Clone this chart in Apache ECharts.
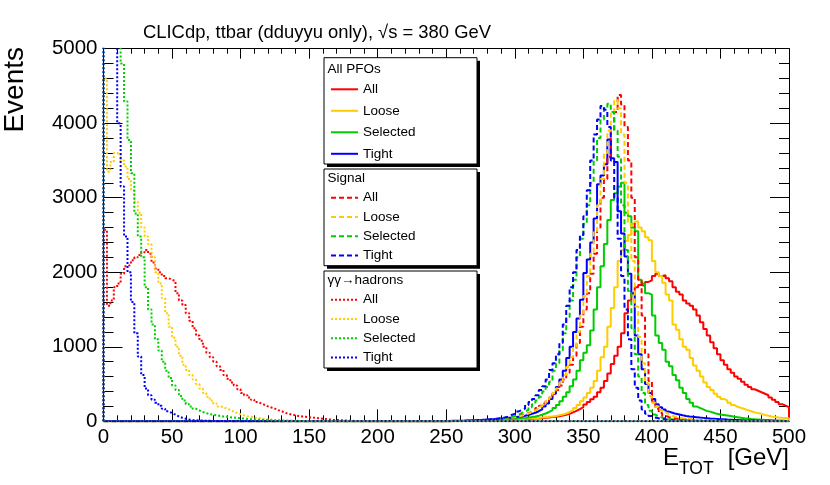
<!DOCTYPE html>
<html><head><meta charset="utf-8">
<script src="https://cdn.jsdelivr.net/npm/echarts@6/dist/echarts.min.js"></script>
<style>html,body{margin:0;padding:0;background:#fff}#c{width:830px;height:485px}</style>
</head><body><div id="c"></div>
<script>
const FONT = 'Liberation Sans, Arial, Helvetica, sans-serif';
const BIN = 2.5;
const X_MIN = 0, X_MAX = 500, X_STEP = 50;
const Y_MIN = 0, Y_MAX = 5000, Y_STEP = 1000;
const groups = ['All PFOs', 'Signal', 'γγ→hadrons'];
const selections = ['All', 'Loose', 'Selected', 'Tight'];
const colors = ['#ff0000', '#ffcc00', '#00cc00', '#0000ff'];
const titleText = 'CLICdp, ttbar (dduyyu only), √s = 380 GeV';

// All PFOs (solid) — 2.5 GeV bins starting at 250 GeV
const pfoStart = 250;
const pfoAll = [3,3,4,4,5,5,6,6,7,8,9,10,11,12,13,15, 16,18,20,22,
  24,26,28,30,33,36,39,42, 46,50,56,62,68,76,88,100,
  120,140,165,190,225,260,295,330, 390,450,540,640,770,880,1000,1180,
  1450,1620,1720,1800,1830,1820,1870,1890, 1950,1980,1950,1960,1920,1880,1800,1740,
  1700,1620,1580,1550,1500,1420,1330,1240, 1150,1060,980,900,820,760,700,650,
  600,570,530,490,460,430,410,390, 370,350,320,290,260,230,210,190];
const pfoLoose = [2,3,3,4,4,5,5,6,7,8,9,10,11,12,13,14, 18,20,23,26,
  30,32,35,38,40,42,45,50, 55,60,65,72,80,90,105,125,
  150,180,220,270,320,380,450,540, 680,860,1000,1270,1520,1800,2150,2300,
  2420,2500,2650,2680,2600,2550,2470,2430, 2150,2000,1950,1860,1700,1620,1300,1230,
  1100,1000,960,850,750,680,600,520, 460,420,370,330,300,280,250,220,
  195,180,165,150,135,120,110,100, 85,75,65,58,52,47,43,40];
const pfoSelected = [3,3,4,4,5,6,7,8,9,10,11,12,14,15,17,19, 22,26,30,34,
  38,42,46,52,58,65,75,90, 105,125,150,180,220,270,330,390,
  470,560,680,820,920,1020,1220,1500, 1800,2080,2380,2700,2970,3060,3150,3200,
  2800,2750,2600,2550,1900,1850,1720,1700, 1420,1150,1050,960,800,740,620,550,
  450,380,300,250,200,180,160,140, 130,115,100,92,85,78,70,62,
  55,48,42,37,32,28,25,22, 19,17,15,13,11,10,9,8];
const pfoTight = [5,6,7,8,9,10,12,14,16,18,21,24,27,30,34,38, 42,46,50,55,
  60,65,75,85,100,115,135,160, 200,240,300,370,460,560,680,850,
  1000,1200,1380,1630,1990,2170,2400,2720, 3180,3300,3450,3780,3530,3480,2820,2520,
  2210,1980,1720,1150,900,700,500,380, 300,230,190,160,130,115,100,90,
  80,72,65,60,55,50,46,42, 38,35,32,29,26,23,21,19,
  17,15,13,12,11,10,9,8, 7,6,6,5,5,4,4,3];

// Signal (dashed) — 2.5 GeV bins starting at 250 GeV
const sigStart = 250;
const sigAll = [2,2,3,4,5,6,7,9,11,13,15,18,22,26,30,35, 40,45,50,60,
  70,80,90,110,130,150,180,210, 240,280,320,370,420,480,560,650,
  760,880,1050,1270,1500,1720,1980,2250, 2600,3000,3250,3550,3900,4150,4380,4250,
  3950,3500,3000,2200,1900,1420,900,540, 270,170,110,75,55,45,38,32,
  27,23,20,17,15,13,11,10, 8,7,6,5,4,4,3,3, 2,2,1,1];
const sigLoose = [1,2,2,3,3,4,5,6,8,10,12,14,17,21,25,30, 35,40,48,55,
  65,75,90,105,125,145,170,200, 235,275,320,380,440,520,620,730,
  860,1000,1200,1420,1680,1950,2250,2550, 2900,3250,3600,3900,4150,4310,4200,3850,
  3200,2650,2150,1540,1130,780,510,340, 250,200,150,120,95,75,60,50,
  42,35,30,26,22,19,16,14, 12,10,9,8,7,6,5,4, 3,3,2,2,1,1];
const sigSelected = [1,2,2,3,4,5,6,7,9,11,13,16,19,23,28,33, 40,48,58,70,
  85,110,130,155,190,230,280,330, 400,460,530,680,780,950,1180,1400,
  1620,1900,2200,2450,2650,2900,3200,3500, 3800,4050,4200,4260,4150,3900,3550,2900,
  2300,1750,1250,900,600,380,220,140, 90,65,50,40,32,26,21,17,
  14,12,10,8,7,6,5,4, 3,3,2,2,1,1];
const sigTight = [2,3,3,4,5,6,7,9,11,13,16,19,23,27,35,42, 50,62,85,100,
  130,150,170,220,260,300,350,420, 470,560,690,780,900,1050,1300,1550,
  1800,2000,2300,2500,2750,3100,3500,3850, 4050,4230,4180,3950,3500,3000,2450,1950,
  1500,1100,700,450,280,160,100,70, 50,40,32,26,21,17,14,12,
  10,8,7,6,5,4,3,3, 2,2,1,1];

// γγ→hadrons (dotted) — 2.5 GeV bins starting at 0 GeV
const gghStart = 0;
const gghAll = [2570,1550,1620,1800,1850,1980,2080,2100,2160,2200,
  2230,2270,2300,2250,2130,2050,2000,1950,1920,1900,
  1880,1720,1620,1560,1450,1350,1250,1150,1080,1000,
  920,860,800,740,690,620,570,520,480,430,
  380,350,320,290,260,240,220,200,185,170,
  150,135,115,100,90,80,70,65,60,55,
  50,45,40,35,30,25,20,18,15,12,
  10,8,6,5,4,3,2,2,1,1];
const gghLoose = [4600,3350,3480,3600,3580,3500,3420,3250,3100,2950,
  2800,2600,2480,2380,2200,2000,1850,1650,1450,1270,
  1120,1000,880,760,690,620,560,500,440,380,
  330,280,240,200,190,170,155,130,110,95,
  80,65,60,50,45,38,30,25,22,18,
  15,13,11,10,8,7,6,5,4,3, 2,2,1,1];
const gghSelected = [6500,6500,6500,6500,6500,4800,4290,3775,3330,2790,
  2480,2200,1800,1500,1300,1100,950,800,680,580,
  480,420,340,280,230,200,170,145,125,110,
  95,90,80,72,65,60,55,50,45,40,
  36,32,28,25,22,20,17,15,13,11,
  10,9,8,7,6,5,4,3,2,2, 1,1];
const gghTight = [7000,7000,7000,7000,4000,3150,2480,2000,1600,1180,
  870,620,440,350,290,250,210,170,135,110,
  90,65,48,35,25,18,14,11,9,7,
  6,5,4,3,2,2,1,1];

const groupData = [
  {start: pfoStart, sets: [pfoAll, pfoLoose, pfoSelected, pfoTight], dash: 'solid'},
  {start: sigStart, sets: [sigAll, sigLoose, sigSelected, sigTight], dash: [5, 3]},
  {start: gghStart, sets: [gghAll, gghLoose, gghSelected, gghTight], dash: [2, 2]}
];

function hist(start, vals) {
  const pts = [[X_MIN, 0]];
  vals.forEach((v, i) => pts.push([start + i * BIN, v]));
  const end = start + vals.length * BIN;
  pts.push([end, 0]);
  if (end < X_MAX) pts.push([X_MAX, 0]);
  return pts;
}

const series = [];
groupData.forEach((g, gi) => {
  g.sets.forEach((vals, si) => {
    series.push({
      name: groups[gi] + '|' + selections[si],
      type: 'line', step: 'end', symbol: 'none', showSymbol: false,
      clip: true, silent: true,
      xAxisIndex: 0, yAxisIndex: 0,
      data: hist(g.start, vals),
      itemStyle: {color: colors[si]},
      lineStyle: {color: colors[si], width: 2, type: g.dash, cap: 'butt'}
    });
  });
});

const legendTops = [82.3, 190.7, 292.7];
const legendGaps = [7.5, 5.3, 5.3];
const legends = groups.map((g, gi) => ({
  data: selections.map(s => g + '|' + s),
  orient: 'vertical', left: 330, top: legendTops[gi],
  itemWidth: 27, itemHeight: 14, itemGap: legendGaps[gi], padding: 0,
  selectedMode: false,
  itemStyle: {opacity: 0},
  formatter: n => n.split('|')[1],
  textStyle: {fontSize: 13.5, color: '#000', fontFamily: FONT}
}));

const boxes = [[324, 57.7, 153, 106.3], [324, 169, 153, 96.7], [324, 271, 153, 97]];
const headerY = [69, 178.3, 280.3];
const graphic = [];
boxes.forEach((b, i) => {
  graphic.push({type: 'rect', z: 0, shape: {x: b[0] + 3, y: b[1] + 3, width: b[2], height: b[3]}, style: {fill: '#000'}});
  graphic.push({type: 'rect', z: 1, shape: {x: b[0], y: b[1], width: b[2], height: b[3]}, style: {fill: '#fff', stroke: '#000', lineWidth: 1}});
  graphic.push({type: 'text', z: 2, x: 327.5, y: headerY[i], style: {text: groups[i], fontSize: 13.5, fontFamily: FONT, fill: '#000', align: 'left', verticalAlign: 'middle'}});
});
graphic.push({type: 'text', x: 143, y: 33, style: {text: titleText, fontSize: 18.4, fontFamily: FONT, fill: '#000', align: 'left', verticalAlign: 'middle'}});
graphic.push({type: 'text', x: 15, y: 47, rotation: Math.PI / 2, style: {text: 'Events', fontSize: 28, fontFamily: FONT, fill: '#000', align: 'right', verticalAlign: 'middle'}});
graphic.push({type: 'text', x: 663, y: 458.5, style: {text: 'E', fontSize: 24, fontFamily: FONT, fill: '#000', align: 'left', verticalAlign: 'middle'}});
graphic.push({type: 'text', x: 679, y: 469, style: {text: 'TOT', fontSize: 17.5, fontFamily: FONT, fill: '#000', align: 'left', verticalAlign: 'middle'}});
graphic.push({type: 'text', x: 789, y: 458.5, style: {text: '[GeV]', fontSize: 24, fontFamily: FONT, fill: '#000', align: 'right', verticalAlign: 'middle'}});

const axisCommon = {
  type: 'value', splitLine: {show: false}, minorSplitLine: {show: false},
  axisLine: {show: true, onZero: false, lineStyle: {color: '#000', width: 1}}
};
const option = {
  animation: false,
  backgroundColor: '#fff',
  textStyle: {fontFamily: FONT},
  grid: {left: 103.5, right: 41, top: 48.7, bottom: 63.7},
  xAxis: [
    Object.assign({}, axisCommon, {position: 'bottom', min: X_MIN, max: X_MAX, interval: X_STEP,
      axisTick: {show: true, inside: true, length: 12, lineStyle: {color: '#000'}},
      minorTick: {show: true, splitNumber: 5, length: 6, lineStyle: {color: '#000'}},
      axisLabel: {show: true, color: '#000', fontSize: 20.5, margin: 6, fontFamily: FONT, formatter: v => String(v)}}),
    Object.assign({}, axisCommon, {position: 'top', min: X_MIN, max: X_MAX, interval: X_STEP,
      axisTick: {show: true, inside: true, length: 10, lineStyle: {color: '#000'}},
      minorTick: {show: true, splitNumber: 5, length: 5, lineStyle: {color: '#000'}},
      axisLabel: {show: false}})
  ],
  yAxis: [
    Object.assign({}, axisCommon, {position: 'left', min: Y_MIN, max: Y_MAX, interval: Y_STEP,
      axisTick: {show: true, inside: true, length: 19, lineStyle: {color: '#000'}},
      minorTick: {show: true, splitNumber: 5, length: 10, lineStyle: {color: '#000'}},
      axisLabel: {show: true, color: '#000', fontSize: 20.5, margin: 6, fontFamily: FONT, formatter: v => String(v)}}),
    Object.assign({}, axisCommon, {position: 'right', min: Y_MIN, max: Y_MAX, interval: Y_STEP,
      axisTick: {show: true, inside: true, length: 19, lineStyle: {color: '#000'}},
      minorTick: {show: true, splitNumber: 5, length: 10, lineStyle: {color: '#000'}},
      axisLabel: {show: false}})
  ],
  legend: legends,
  graphic: graphic,
  series: series
};
const chart = echarts.init(document.getElementById('c'), null, {renderer: 'canvas'});
chart.setOption(option);
</script></body></html>
